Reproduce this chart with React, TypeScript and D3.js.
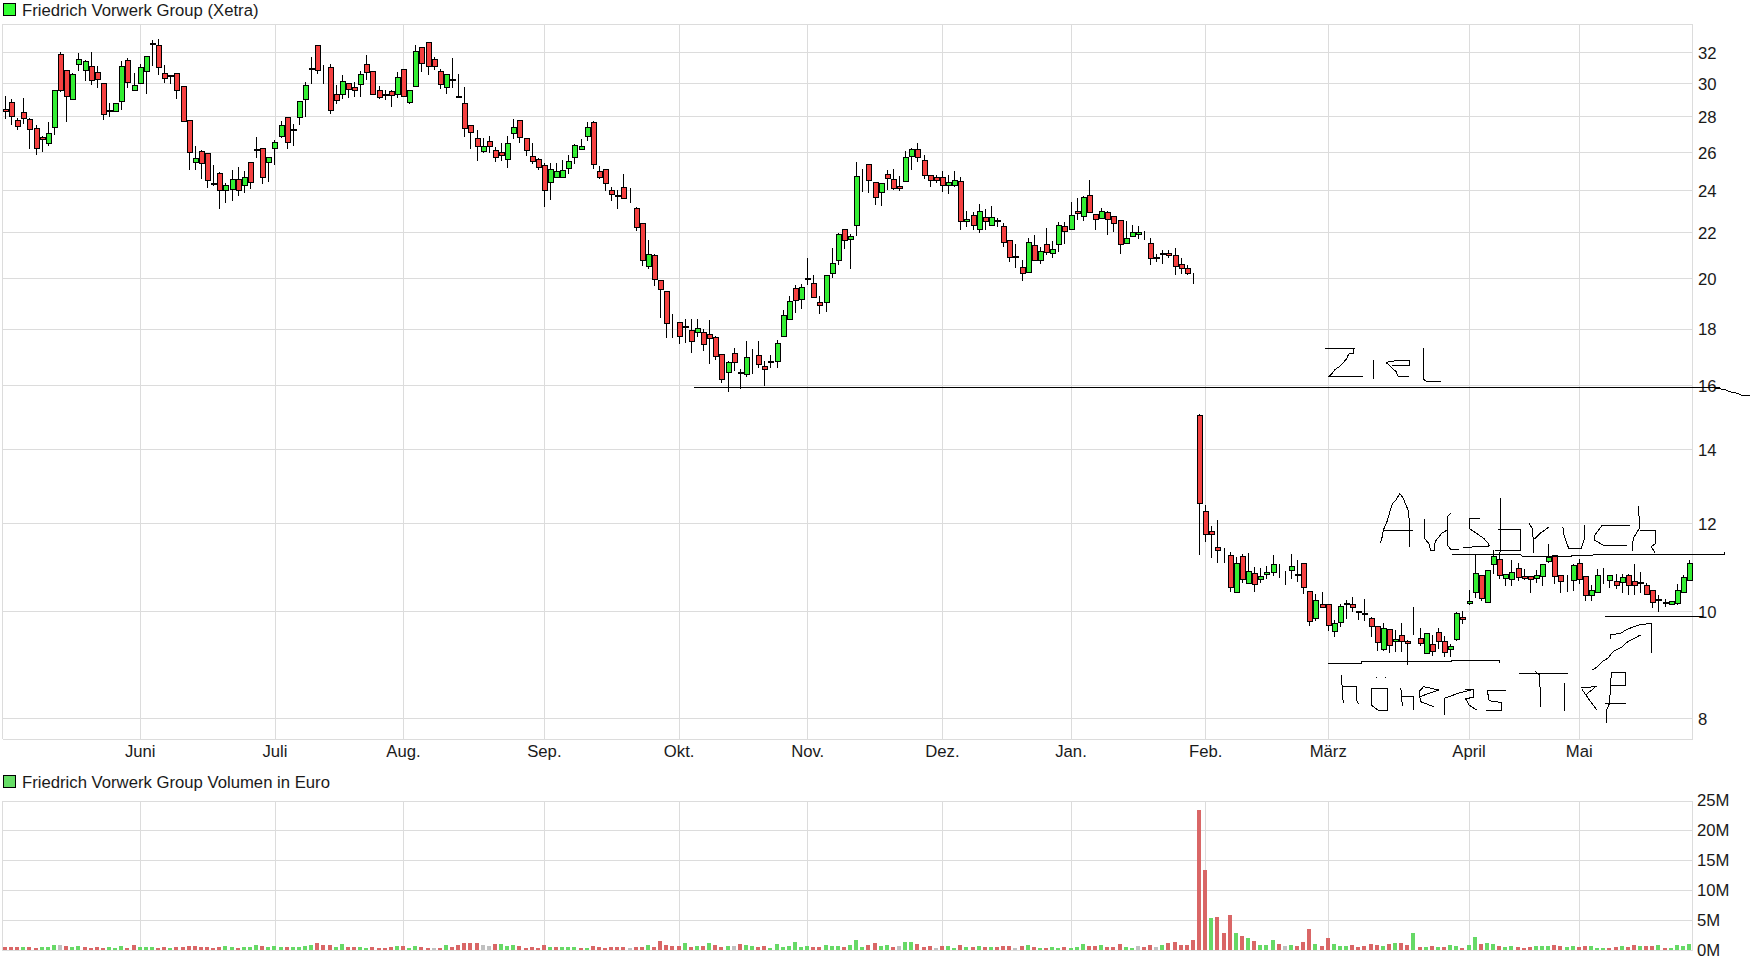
import React, { useEffect, useRef } from 'react';
import * as d3 from 'd3';

const priceTicks = [8, 10, 12, 14, 16, 18, 20, 22, 24, 26, 28, 30, 32];
const volumeTicks = [0, 5, 10, 15, 20, 25];
const monthLabels = ['Juni', 'Juli', 'Aug.', 'Sep.', 'Okt.', 'Nov.', 'Dez.', 'Jan.', 'Feb.', 'März', 'April', 'Mai'];
const monthStarts = [22, 44, 65, 88, 110, 131, 153, 174, 196, 216, 239, 257];

const open = [
  28.42,28.85,27.78,28.24,27.83,27.33,26.83,26.50,27.39,31.89,
  30.83,29.03,31.24,30.85,31.11,30.72,30.00,28.38,28.30,28.91,
  31.50,29.58,30.00,30.78,32.63,32.48,30.65,30.50,30.65,29.82,
  27.78,25.47,26.06,25.95,24.40,24.89,24.00,24.05,24.58,24.26,
  25.47,26.14,26.22,25.47,26.22,26.89,27.94,27.27,27.94,29.03,
  31.00,32.48,30.72,31.04,29.33,29.33,30.00,29.76,29.94,31.24,
  30.78,29.58,29.33,29.52,29.33,30.91,28.85,29.82,32.35,32.67,
  31.57,30.78,29.76,30.26,29.21,28.79,27.50,26.78,26.06,26.61,
  26.11,26.00,25.63,27.06,27.78,26.78,25.79,25.63,25.32,24.42,
  24.68,24.68,25.16,25.74,26.17,26.88,27.65,25.00,25.11,24.00,
  23.79,24.19,23.62,23.14,22.43,20.52,20.96,19.92,19.45,18.12,
  18.24,18.10,17.93,17.86,17.89,17.79,17.68,17.07,16.43,17.11,
  16.43,16.39,17.05,17.04,16.64,16.82,16.82,17.71,18.35,19.57,
  19.14,19.99,19.80,19.02,19.02,20.22,20.78,22.14,21.70,22.33,
  25.06,25.38,24.42,23.90,24.85,24.58,24.21,24.48,25.81,26.18,
  25.59,24.80,24.69,24.69,24.27,24.27,24.48,22.52,22.81,22.14,
  22.71,22.33,22.55,22.29,21.65,20.94,20.48,20.26,21.43,20.78,
  21.48,21.09,21.48,22.29,22.14,23.00,22.76,23.76,22.86,22.67,
  22.95,22.76,22.57,21.52,21.83,21.91,21.83,21.52,20.91,21.07,
  21.09,20.96,20.61,20.43,20.00,
  15.03,12.32,11.80,11.43,11.25,11.23,10.41,11.20,10.59,10.82,
  10.68,10.79,10.84,10.86,10.86,10.89,10.79,11.04,10.43,9.85,
  10.14,10.14,9.59,9.78,10.16,10.14,10.00,9.95,9.85,9.68,
  9.23,9.63,9.40,9.51,9.40,9.56,9.46,9.16,9.33,9.57,
  9.40,9.23,9.44,9.87,10.16,10.39,10.77,10.18,11.02,11.14,
  10.70,10.68,10.93,10.75,10.75,10.70,10.75,11.09,11.23,10.77,
  10.66,10.66,11.05,10.75,10.34,10.39,10.80,10.66,10.64,10.61,
  10.77,10.64,10.62,10.55,10.45,10.24,10.19,10.14,10.16,10.39,10.66,
];
const close = [
  28.30,28.00,27.44,27.89,27.28,26.22,26.72,27.06,29.58,29.58,
  29.21,30.59,31.57,31.41,30.20,30.26,28.12,28.36,28.79,31.11,
  30.07,29.88,31.04,31.76,32.60,31.04,30.33,30.46,29.58,27.72,
  26.00,25.68,25.42,24.53,24.37,24.00,24.26,24.58,24.00,24.68,
  24.42,26.11,24.68,25.74,26.56,27.50,26.56,27.24,28.91,29.88,
  30.98,30.85,30.72,28.36,28.97,30.13,29.64,29.58,30.59,30.72,
  29.33,29.15,29.30,29.27,30.39,29.21,29.58,32.09,31.30,31.11,
  31.11,29.94,30.59,30.23,29.18,27.33,27.11,26.33,26.33,26.33,
  25.74,25.84,26.50,27.39,26.83,26.11,25.53,25.21,24.00,25.11,
  25.00,25.05,25.53,26.39,26.33,27.38,25.37,24.68,24.37,23.81,
  23.76,23.62,23.62,22.24,20.78,21.04,19.96,19.53,18.20,18.12,
  17.71,18.07,17.54,18.04,17.42,17.64,17.00,16.21,16.79,16.79,
  16.40,16.96,17.05,16.71,16.54,16.79,17.46,18.51,19.06,19.10,
  19.61,19.96,19.22,18.90,20.13,20.65,21.91,21.65,21.83,24.74,
  25.06,24.53,23.67,24.37,24.64,24.11,24.11,25.75,26.18,25.75,
  24.80,24.53,24.53,24.27,24.42,24.53,22.52,22.62,22.33,23.00,
  22.52,22.71,22.52,21.57,20.91,20.91,20.22,21.57,20.78,21.17,
  21.13,21.26,22.33,22.05,22.81,22.90,23.67,22.95,22.62,23.00,
  22.62,22.43,21.48,21.74,22.00,22.00,21.83,20.83,20.83,21.04,
  20.96,20.52,20.43,20.22,20.00,
  12.51,11.73,11.73,11.34,11.25,10.50,11.04,10.68,10.86,10.57,
  10.75,10.84,11.02,10.86,10.86,10.98,10.77,10.50,9.79,10.23,
  10.09,9.70,9.74,10.11,10.14,10.07,9.98,9.93,9.68,9.38,
  9.64,9.31,9.44,9.40,9.36,9.56,9.36,9.55,9.20,9.40,
  9.18,9.29,9.96,9.83,10.20,10.82,10.27,10.89,11.21,10.77,
  10.80,10.84,10.73,10.70,10.68,10.77,11.02,11.18,10.75,10.64,
  10.66,11.00,10.68,10.34,10.45,10.77,10.80,10.77,10.55,10.73,
  10.55,10.55,10.60,10.36,10.18,10.22,10.17,10.20,10.45,10.73,11.05,
];
const high = [
  29.23,29.03,27.93,29.09,27.89,27.52,26.87,27.67,29.58,32.04,
  30.83,30.65,31.98,31.48,32.02,31.07,30.00,28.79,28.79,31.43,
  31.63,30.65,31.26,31.76,32.80,32.87,31.17,30.50,30.65,29.82,
  27.78,26.33,26.11,25.95,25.33,24.95,24.39,25.02,25.18,24.97,
  25.47,26.83,26.22,25.74,26.67,27.72,27.94,27.56,28.91,30.07,
  31.70,32.48,31.17,31.24,29.88,30.52,30.00,30.07,30.78,31.85,
  30.78,29.82,29.58,29.58,30.74,30.91,29.58,32.48,32.35,32.67,
  31.70,30.91,30.59,31.63,30.59,29.76,27.50,27.22,26.78,26.89,
  26.28,26.50,26.89,27.83,27.78,26.78,26.50,25.68,25.42,25.42,
  25.42,25.58,25.84,26.44,26.72,27.65,27.76,25.26,25.11,24.19,
  24.00,24.84,24.14,23.19,22.43,21.65,21.04,19.92,19.45,18.56,
  18.24,18.37,18.37,18.37,18.00,18.33,17.71,17.07,16.82,17.29,
  16.54,17.54,17.25,17.54,16.82,17.04,17.57,18.71,19.25,19.73,
  19.76,20.87,20.13,19.25,20.13,21.28,21.96,22.14,21.91,25.45,
  25.12,25.38,24.42,24.37,25.06,25.12,24.74,26.07,26.24,26.51,
  25.86,24.80,24.80,25.01,24.80,25.01,24.69,23.00,22.95,23.33,
  23.10,23.24,22.67,22.43,21.65,21.48,20.78,21.74,21.87,21.35,
  22.19,21.61,22.48,22.48,23.43,23.62,23.71,24.53,22.86,23.14,
  23.00,22.76,22.57,22.52,22.33,22.29,22.04,21.74,21.04,21.20,
  21.22,21.30,20.87,20.57,20.22,
  15.06,12.46,11.93,12.08,11.39,11.30,11.18,11.25,11.28,10.95,
  10.93,10.98,11.23,11.02,10.87,11.25,11.11,11.04,10.43,10.36,
  10.41,10.14,9.81,10.14,10.23,10.30,10.00,10.25,9.87,9.68,
  9.74,9.63,9.61,9.76,9.42,10.09,9.64,9.55,9.51,9.64,
  9.48,9.33,9.98,10.00,10.45,11.23,10.77,10.89,11.36,11.30,
  10.80,11.11,11.05,10.91,10.75,10.89,11.02,11.49,11.23,10.77,
  10.77,11.02,11.14,10.75,10.55,10.91,10.93,10.77,10.80,10.80,
  10.80,11.02,10.84,10.59,10.45,10.34,10.25,10.20,10.57,10.77,11.11,
];
const low = [
  27.93,27.59,27.26,27.61,26.20,25.88,26.04,26.37,26.98,29.50,
  27.76,29.03,30.83,30.22,29.98,29.74,27.87,28.02,28.30,28.46,
  29.80,29.58,30.00,29.43,31.15,30.57,30.11,30.02,29.07,27.72,
  25.09,25.09,24.61,24.19,24.25,23.13,23.41,23.51,23.79,23.94,
  24.14,25.72,24.35,24.46,25.35,26.83,26.20,26.37,27.59,28.04,
  30.04,30.65,30.04,28.18,28.79,29.07,29.13,29.19,29.19,30.30,
  29.33,29.09,29.03,28.59,29.15,29.21,28.79,29.82,30.76,30.57,
  30.91,29.68,29.37,29.80,29.18,26.87,26.20,25.56,25.98,25.98,
  25.51,25.56,25.19,26.78,26.56,25.84,25.40,25.09,23.22,23.56,
  24.68,24.68,24.88,25.40,26.17,26.68,25.14,24.63,24.00,23.51,
  23.14,23.62,23.41,22.10,20.55,20.44,19.71,18.44,17.70,17.70,
  17.45,17.52,17.13,17.71,17.20,16.77,16.88,16.10,15.81,16.52,
  15.89,16.31,16.42,16.60,15.99,16.63,16.63,17.71,18.35,18.65,
  18.77,19.76,19.22,18.61,18.69,20.04,20.61,21.29,20.42,21.86,
  23.98,23.94,23.32,23.27,24.09,24.05,24.00,24.48,25.08,25.52,
  24.64,24.21,24.42,23.95,23.86,24.21,22.17,22.27,22.14,21.99,
  22.17,22.33,22.27,21.36,20.74,20.48,19.91,20.26,20.78,20.64,
  21.04,20.90,21.16,21.51,22.14,22.62,22.57,22.95,22.17,22.67,
  21.90,22.06,21.07,21.52,21.83,21.74,21.70,20.59,20.72,20.64,
  20.91,20.16,20.20,20.16,19.79,
  11.26,11.56,11.19,11.08,11.08,10.42,10.41,10.61,10.59,10.42,
  10.61,10.70,10.77,10.72,10.58,10.71,10.65,10.38,9.71,9.81,
  10.07,9.60,9.49,9.69,9.85,10.00,9.83,9.81,9.49,9.21,
  9.21,9.17,9.19,9.20,8.95,9.53,9.31,9.16,9.12,9.25,
  9.10,9.10,9.42,9.74,10.14,10.30,10.23,10.18,10.82,10.70,
  10.55,10.55,10.66,10.68,10.40,10.61,10.55,11.07,10.59,10.39,
  10.43,10.45,10.59,10.23,10.23,10.39,10.59,10.50,10.48,10.41,
  10.36,10.36,10.39,10.36,10.07,10.00,10.11,10.14,10.14,10.39,10.66,
];

// volume in millions of euro
const volume = [
  .44,.44,.44,.44,.44,.33,.44,.44,.83,.83,.61,.44,.61,.44,.33,.44,.33,.44,.33,.61,
  .33,.83,.44,.44,.44,.33,.44,.28,.44,.44,.61,.61,.44,.44,.33,.44,.61,.44,.33,.44,
  .44,.78,.61,.44,.61,.44,.44,.44,.44,.61,.78,1.17,.83,.83,.44,1.0,.44,.44,.44,.33,
  .44,.33,.33,.44,.61,.61,.33,.61,.44,.33,.33,.33,.78,.44,.78,1.17,1.17,1.17,.83,.61,
  1.0,1.0,.61,.83,.61,.33,.44,.33,.83,.44,.44,.44,.44,.44,.28,.28,.67,.44,.33,.44,
  .44,.44,.28,.44,.44,.83,.44,1.5,.83,.61,.61,
  1.17,.5,.67,.67,1.17,.83,.5,.67,.67,1.0,.83,.67,.5,.67,.33,1.0,.5,.67,1.33,.5,
  .67,.5,.5,.83,.67,.67,.5,.83,1.67,.5,.83,1.17,.67,.83,.5,.67,1.33,1.33,1.0,.5,
  .67,.33,.67,.67,.33,.83,.5,.5,.67,.5,.5,.5,.67,.67,.33,.67,.83,.5,.33,.33,
  .5,.33,.5,.33,.5,1.0,.67,.67,.83,.5,.5,1.0,.5,.33,.67,.5,.83,.5,.83,1.17,
  1.33,.83,.83,1.67,
  23.33,13.33,5.33,5.5,2.83,5.83,2.83,2.33,2.0,1.5,.83,.83,1.67,1.0,.67,.83,.67,1.33,3.5,1.0,
  .67,2.0,1.0,.67,.67,.83,.5,.67,1.0,.83,.67,1.0,1.17,1.17,.83,2.83,.5,.5,.67,.5,
  .5,.83,.67,.33,.83,2.17,1.0,1.17,1.0,.67,.5,.67,.5,.33,.5,.67,.67,.67,.83,.67,
  .5,.67,.5,.67,.67,.33,.33,.33,.5,.67,.5,.83,.67,.67,.67,.83,.33,.33,.83,.67,1.0,
];
// r = down day, g = up day, n = unchanged
const volumeTrend = [
  'rrrgrrgggn','rggrrrrggg','rrgggrrgrr','rrrrrrggrg','ggrgggrggg','grrrggrrgg','rrrrgrggrr','nrgrrrrrnn','rgggrrrrrg','rgggrgrrrr','rrnrrgrrrrr',
  'grgrgrrgnr','ggrrgggggg','grrgggrggg','rrggrnggrr','rnrggrgrgr','grrrnrgrgr','ggrgggrrgr','rrggnrrngr','rrrr',
  'rrgrrrgrgr','gggrngrrrg','rrgggrrrrr','grgrrgrgrg','rggrggrggr','ggrrrgggrr','ggrrgggrrg','rrgrrgrgggg',
].join('');

const priceLines = [
  { price: 15.94, from: 112.5, to: 280 },
];

// freehand marks drawn over the chart by the poster, measured on a 1568x1260 sheet of the lower right corner
const ziel = [
  [[370,55],[450,55],[447,70],[435,72],[430,85],[420,98],[410,110],[398,118],[390,130],[380,140],[473,140]],
  [[503,65],[503,67]],
  [[503,90],[503,148]],
  [[537,97],[565,92],[603,92],[603,105],[553,105]],
  [[537,97],[550,110],[565,125],[570,138],[600,140]],
  [[640,55],[640,148],[650,155],[688,155]],
];
const ausbruch = [
  [[522,640],[527,620],[530,600],[540,575],[548,545],[555,520],[565,510],[575,490],[585,505],[590,520],[600,545],[602,652]],
  [[530,601],[612,601]],
  [[642,568],[642,625],[655,640],[660,662],[670,662],[672,635],[690,610],[705,600],[705,560],[714,550]],
  [[705,600],[705,645],[715,658],[737,658]],
  [[795,565],[765,565],[765,595],[785,610],[805,625],[818,640],[820,648],[800,650],[748,652]],
  [[852,505],[852,665]],
  [[845,598],[905,598],[905,662],[835,662]],
  [[930,580],[940,600],[941,670]],
  [[941,630],[960,610],[985,590]],
  [[1022,590],[1025,615],[1038,655],[1072,655],[1082,625],[1082,585]],
  [[1205,586],[1130,586],[1110,615],[1108,630],[1135,647],[1198,647]],
  [[1228,528],[1232,570],[1232,595],[1215,625],[1212,662]],
  [[1232,600],[1275,602],[1277,640],[1265,650],[1275,670]],
];
const hoeheresTief = [
  [[415,1035],[420,1120]],
  [[420,1068],[455,1068],[458,1115],[462,1122]],
  [[510,1040],[510,1043]],
  [[535,1042],[535,1045]],
  [[497,1075],[497,1125],[515,1140],[542,1140],[542,1075],[497,1075]],
  [[578,1075],[582,1128]],
  [[582,1100],[612,1100],[612,1140]],
  [[630,1100],[682,1080],[640,1070],[628,1085],[632,1115],[668,1130]],
  [[697,1155],[697,1105],[735,1090],[778,1078]],
  [[755,1078],[778,1078],[778,1103],[755,1105],[765,1125],[785,1140]],
  [[865,1082],[815,1082],[820,1112],[855,1118],[855,1140],[812,1140]],
  [[903,1030],[1035,1030]],
  [[945,1022],[958,1035],[962,1130]],
  [[1027,1060],[1027,1143]],
  [[1072,1073],[1112,1070],[1085,1095],[1075,1078]],
  [[1085,1095],[1105,1125],[1115,1140]],
  [[1195,1028],[1155,1028],[1150,1120],[1142,1140],[1142,1180]],
  [[1155,1065],[1195,1065],[1195,1028]],
  [[1138,1120],[1195,1122]],
];
const helperLines = [
  [[720,676],[720,673],[905,673],[910,678],[1045,678],[1045,675],[1105,675],[1108,673],[1465,673],[1465,667]],
  [[378,999],[470,999],[470,994],[715,994],[720,991],[848,991],[848,999]],
  [[1138,859],[1405,859]],
  [[1103,1020],[1115,1012],[1130,995],[1145,985],[1160,965],[1185,950],[1200,935],[1235,915]],
  [[1152,928],[1152,915],[1180,910],[1200,897],[1230,885],[1265,880],[1265,968]],
  [[1440,175],[1465,178],[1478,185],[1500,190],[1510,195],[1535,197]],
];

const fontFamily = '"Liberation Sans", Arial, sans-serif';
const fontSize = '16.7px';

export default function App() {
  const ref = useRef<SVGSVGElement | null>(null);

  useEffect(() => {
    if (!ref.current) return;
    const svg = d3.select(ref.current);
    svg.selectAll('*').remove();

    const left = 2.5, right = 1692.5;
    const priceTop = 23.5, priceBottom = 738.5;
    const x = d3.scaleLinear().domain([0, 275]).range([5, 1689]);
    const y = d3.scaleLog().domain([8, 32]).range([718, 52.3]);
    const yVol = d3.scaleLinear().domain([0, 25]).range([950, 800.5]);
    const px = (v: number) => Math.round(v) + 0.5;

    const drawGrid = (top: number, bottom: number, rows: number[]) => {
      const g = svg.append('g').attr('stroke', '#dcdcdc').attr('stroke-width', 1).attr('shape-rendering', 'crispEdges');
      g.selectAll('line.h').data(rows).join('line').attr('class', 'h')
        .attr('x1', left).attr('x2', right).attr('y1', d => px(d)).attr('y2', d => px(d));
      g.selectAll('line.v').data([...monthStarts.map(i => x(i) + 0.6), left, right]).join('line').attr('class', 'v')
        .attr('x1', d => px(d - 0.5)).attr('x2', d => px(d - 0.5)).attr('y1', top).attr('y2', bottom);
    };
    drawGrid(priceTop, priceBottom, [priceTop, priceBottom, ...priceTicks.map(t => y(t))]);
    drawGrid(800.5, 950.5, volumeTicks.map(t => yVol(t)));

    // y axes
    const styleAxis = (g: d3.Selection<SVGGElement, unknown, null, undefined>) => {
      g.select('.domain').remove();
      g.selectAll('.tick line').remove();
      g.selectAll('text').attr('fill', '#1a1a1a').style('font-family', fontFamily).style('font-size', fontSize);
    };
    svg.append('g').attr('transform', 'translate(1698,1)')
      .call(d3.axisRight(y).tickValues(priceTicks).tickFormat(d => String(d)).tickSize(0).tickPadding(0))
      .call(styleAxis);
    svg.append('g').attr('transform', 'translate(1697,0)')
      .call(d3.axisRight(yVol).tickValues(volumeTicks).tickFormat(d => `${d}M`).tickSize(0).tickPadding(0))
      .call(styleAxis);
    svg.append('g').attr('transform', 'translate(0,745)')
      .call(d3.axisBottom(x).tickValues(monthStarts).tickFormat((_, i) => monthLabels[i]).tickSize(0).tickPadding(0))
      .call(styleAxis);

    // legends
    const legends = [
      { label: 'Friedrich Vorwerk Group (Xetra)', fill: '#33ff33', top: 3.5, baseline: 16 },
      { label: 'Friedrich Vorwerk Group Volumen in Euro', fill: '#66dd66', top: 775.5, baseline: 788 },
    ];
    legends.forEach(l => {
      svg.append('rect').attr('x', 3.5).attr('y', l.top).attr('width', 12).attr('height', 12)
        .attr('fill', l.fill).attr('stroke', '#000').attr('shape-rendering', 'crispEdges');
      svg.append('text').attr('x', 22).attr('y', l.baseline).text(l.label)
        .attr('fill', '#1a1a1a').style('font-family', fontFamily).style('font-size', fontSize);
    });

    // volume bars
    const volColor: Record<string, string> = { r: '#d96666', g: '#66d966', n: '#c0c0c0' };
    svg.append('g').attr('shape-rendering', 'crispEdges')
      .selectAll('rect').data(volume).join('rect')
      .attr('x', (_, i) => Math.round(x(i)) - 2)
      .attr('width', 4)
      .attr('y', d => Math.round(yVol(d)))
      .attr('height', d => 950 - Math.round(yVol(d)))
      .attr('fill', (_, i) => volColor[volumeTrend[i]]);

    // candles
    const candles = d3.range(open.length);
    const g = svg.append('g').attr('shape-rendering', 'crispEdges');
    g.selectAll('line').data(candles).join('line')
      .attr('x1', i => px(x(i))).attr('x2', i => px(x(i)))
      .attr('y1', i => Math.round(y(high[i]))).attr('y2', i => Math.round(y(low[i])) + 1)
      .attr('stroke', '#000');
    g.selectAll('rect').data(candles).join('rect')
      .attr('x', i => px(x(i)) - 2)
      .attr('width', 5)
      .attr('y', i => px(y(Math.max(open[i], close[i]))))
      .attr('height', i => {
        const t = Math.round(y(Math.max(open[i], close[i])));
        const b = Math.round(y(Math.min(open[i], close[i])));
        return open[i] === close[i] ? 0 : Math.max(1, b - t);
      })
      .attr('fill', i => (close[i] > open[i] ? '#33ee33' : '#f44040'))
      .attr('stroke', '#000');

    // price line at the target
    priceLines.forEach(l => {
      svg.append('line').attr('x1', x(l.from)).attr('x2', x(l.to))
        .attr('y1', px(y(l.price))).attr('y2', px(y(l.price)))
        .attr('stroke', '#000').attr('shape-rendering', 'crispEdges');
    });

    // freehand marks
    const sheetX = d3.scaleLinear().domain([0, 1568]).range([1190, 1762]);
    const sheetY = d3.scaleLinear().domain([0, 1260]).range([330, 750]);
    const ink = d3.line<number[]>().x(d => sheetX(d[0])).y(d => sheetY(d[1]));
    const groups: [string, number[][][]][] = [
      ['Ziel', ziel], ['Ausbruch', ausbruch], ['höheres Tief', hoeheresTief], ['Linien', helperLines],
    ];
    groups.forEach(([name, strokes]) => {
      const ig = svg.append('g').attr('aria-label', name).attr('fill', 'none').attr('stroke', '#000')
        .attr('stroke-width', 1).attr('shape-rendering', 'crispEdges');
      ig.selectAll('path').data(strokes).join('path').attr('d', d => ink(d));
    });
  }, []);

  return (
    <svg
      ref={ref}
      width={1762}
      height={968}
      style={{ position: 'absolute', left: 0, top: 0, background: '#fff', display: 'block' }}
    />
  );
}
